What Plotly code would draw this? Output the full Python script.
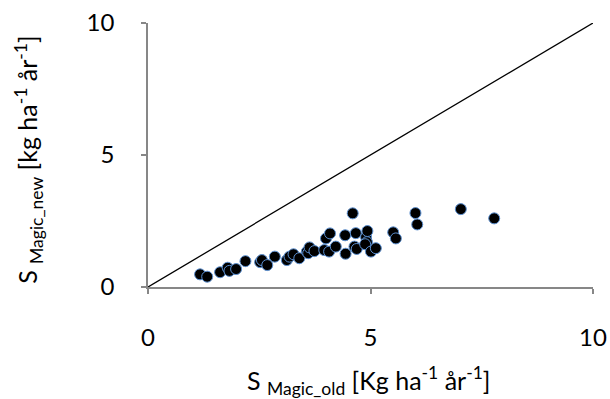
import plotly.graph_objects as go

# S deposition, old vs. new MAGIC runs [kg ha-1 yr-1]
s_magic_old = [1.17, 1.33, 1.62, 1.79, 1.83, 1.98, 2.19, 2.52, 2.56, 2.68,
               2.85, 3.12, 3.18, 3.27, 3.40, 3.57, 3.60, 3.63, 3.74, 3.96,
               4.00, 4.09, 4.07, 4.22, 4.43, 4.44, 4.60, 4.67, 4.64, 4.69,
               4.90, 4.93, 4.92, 4.88, 5.01, 5.12, 5.51, 5.57, 6.01, 6.05,
               7.03, 7.78]
s_magic_new = [0.48, 0.39, 0.56, 0.73, 0.61, 0.68, 0.98, 0.94, 1.02, 0.83,
               1.15, 1.02, 1.15, 1.24, 1.09, 1.34, 1.28, 1.50, 1.36, 1.40,
               1.84, 2.03, 1.34, 1.53, 1.96, 1.26, 2.79, 2.04, 1.53, 1.44,
               1.89, 2.12, 1.70, 1.62, 1.34, 1.47, 2.07, 1.84, 2.80, 2.37,
               2.95, 2.60]

# 1:1 reference line
one_to_one = [0, 10]
tick_vals = [0, 5, 10]

FONT = "Lato"
AXIS_GREY = "#878787"

fig = go.Figure()
fig.add_trace(go.Scatter(
    x=one_to_one, y=one_to_one, mode="lines",
    line=dict(color="black", width=1.3),
    hoverinfo="skip", showlegend=False, cliponaxis=False,
))
fig.add_trace(go.Scatter(
    x=s_magic_old, y=s_magic_new, mode="markers",
    marker=dict(size=11, color="black", line=dict(color="#5B8FD0", width=1)),
    showlegend=False,
))

axis_common = dict(
    range=[0, 10], tickvals=tick_vals, showgrid=False, zeroline=False,
    showline=True, linecolor=AXIS_GREY, linewidth=1.5,
    ticks="outside", ticklen=5, tickcolor=AXIS_GREY, tickwidth=1.5,
    tickfont=dict(family=FONT, size=24, color="black"),
    automargin=False,
)
fig.update_xaxes(**axis_common, ticklabelstandoff=23)
fig.update_yaxes(**axis_common, ticklabelstandoff=22)

fig.add_annotation(
    text="S <sub>Magic_old</sub> [Kg ha<sup>-1</sup> år<sup>-1</sup>]",
    xref="paper", yref="paper", x=0.497, y=-0.356,
    xanchor="center", yanchor="middle", showarrow=False,
    font=dict(family=FONT, size=25, color="black"),
)
fig.add_annotation(
    text="S <sub>Magic_new</sub> [kg ha<sup>-1</sup> år<sup>-1</sup>]",
    xref="paper", yref="paper", x=-0.27, y=0.481, textangle=-90,
    xanchor="center", yanchor="middle", showarrow=False,
    font=dict(family=FONT, size=25, color="black"),
)

fig.update_layout(
    width=610, height=399,
    margin=dict(l=148, r=17, t=23, b=112),
    paper_bgcolor="white", plot_bgcolor="white",
    font=dict(family=FONT, color="black"),
)

fig.write_html("out.html")
